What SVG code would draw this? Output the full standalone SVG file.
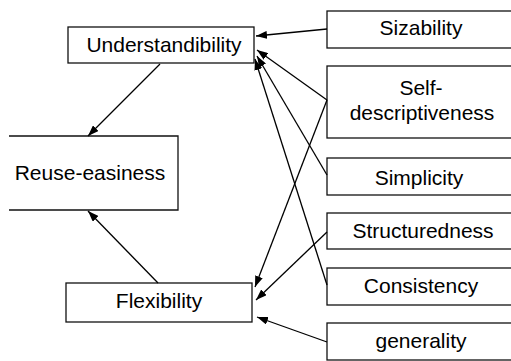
<svg xmlns="http://www.w3.org/2000/svg" width="511" height="361" viewBox="0 0 511 361">
<defs>
<marker id="ah" markerUnits="userSpaceOnUse" markerWidth="12" markerHeight="8" refX="11" refY="4" orient="auto">
<path d="M0,0 L11,4 L0,8 z" fill="#000"/>
</marker>
<style>
.box{fill:#fff;stroke:#111;stroke-width:1.3}
.lbl{font-family:"Liberation Sans",Arial,sans-serif;font-size:21px;fill:#000;text-anchor:middle}
.conn path{fill:none;stroke:#000;stroke-width:1.3;marker-end:url(#ah)}
</style>
</defs>
<rect width="511" height="361" fill="#fff"/>
<g id="understandibility"><rect class="box" x="68" y="27" width="186" height="36"/><text class="lbl" x="164" y="52">Understandibility</text></g>
<g id="reuse-easiness"><path class="box" d="M9,136 H178 V210 H9"/><text class="lbl" x="90" y="180">Reuse-easiness</text></g>
<g id="flexibility"><rect class="box" x="66" y="283" width="186" height="39"/><text class="lbl" x="159" y="308">Flexibility</text></g>
<g id="sizability"><rect class="box" x="327" y="11" width="200" height="37"/><text class="lbl" x="421" y="35">Sizability</text></g>
<g id="self-descriptiveness"><rect class="box" x="327" y="66" width="200" height="72"/><text class="lbl" x="421" y="95">Self-</text><text class="lbl" x="422" y="120">descriptiveness</text></g>
<g id="simplicity"><rect class="box" x="327" y="158" width="200" height="37"/><text class="lbl" x="419" y="185">Simplicity</text></g>
<g id="structuredness"><rect class="box" x="327" y="213" width="200" height="36"/><text class="lbl" x="423" y="238">Structuredness</text></g>
<g id="consistency"><rect class="box" x="327" y="268" width="200" height="37"/><text class="lbl" x="421" y="293">Consistency</text></g>
<g id="generality"><rect class="box" x="327" y="323" width="200" height="37"/><text class="lbl" x="421" y="348">generality</text></g>
<g id="connectors" class="conn">
<path d="M160,64 L88,136"/>
<path d="M158,283 L88,211"/>
<path d="M327,29 L256,36"/>
<path d="M327,100 L257,50"/>
<path d="M327,175 L257,56"/>
<path d="M327,285 L255,59"/>
<path d="M327,100 L255,287"/>
<path d="M327,232 L256,300"/>
<path d="M327,342 L257,317"/>
</g>
</svg>
